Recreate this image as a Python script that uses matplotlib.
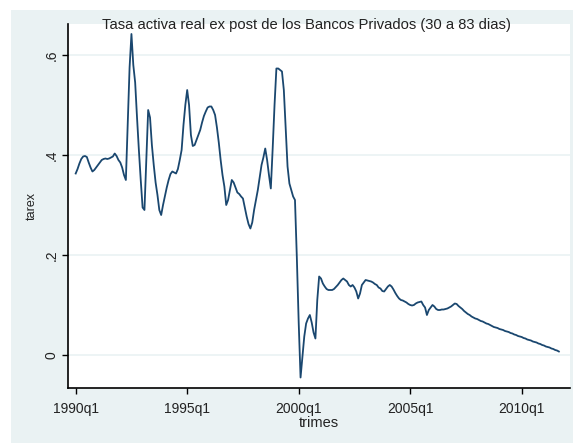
import numpy as np
import matplotlib as mpl; mpl.use('Agg')
import matplotlib.pyplot as plt
from matplotlib.patches import Rectangle

# tasa activa real ex post, monthly, 1990m1 - 2011m9
tarex = [
    0.363, 0.372, 0.383, 0.392, 0.397, 0.398, 0.396, 0.385, 0.375, 0.367, 0.370, 0.375,   # 1990
    0.380, 0.385, 0.390, 0.392, 0.393, 0.392, 0.393, 0.395, 0.397, 0.403, 0.398, 0.390,   # 1991
    0.385, 0.375, 0.360, 0.350, 0.460, 0.575, 0.642, 0.580, 0.545, 0.475, 0.410, 0.350,   # 1992
    0.295, 0.290, 0.390, 0.490, 0.475, 0.420, 0.380, 0.345, 0.320, 0.290, 0.280, 0.300,   # 1993
    0.318, 0.335, 0.350, 0.362, 0.367, 0.365, 0.363, 0.372, 0.390, 0.410, 0.460, 0.500,   # 1994
    0.530, 0.500, 0.440, 0.418, 0.420, 0.430, 0.440, 0.450, 0.465, 0.478, 0.487, 0.495,   # 1995
    0.497, 0.497, 0.490, 0.480, 0.455, 0.425, 0.390, 0.360, 0.337, 0.300, 0.310, 0.330,   # 1996
    0.350, 0.345, 0.335, 0.325, 0.322, 0.317, 0.313, 0.295, 0.277, 0.262, 0.253, 0.265,   # 1997
    0.290, 0.310, 0.330, 0.355, 0.380, 0.395, 0.413, 0.390, 0.360, 0.333, 0.413, 0.500,   # 1998
    0.573, 0.573, 0.570, 0.567, 0.530, 0.455, 0.377, 0.343, 0.330, 0.317, 0.310, 0.195,   # 1999
    0.065, -0.045, -0.005, 0.037, 0.063, 0.073, 0.080, 0.065, 0.045, 0.033, 0.110, 0.157, # 2000
    0.153, 0.143, 0.137, 0.132, 0.130, 0.130, 0.130, 0.132, 0.136, 0.140, 0.145, 0.150,   # 2001
    0.153, 0.150, 0.147, 0.140, 0.137, 0.140, 0.135, 0.127, 0.113, 0.123, 0.140, 0.145,   # 2002
    0.150, 0.149, 0.148, 0.147, 0.145, 0.142, 0.140, 0.135, 0.133, 0.128, 0.127, 0.132,   # 2003
    0.137, 0.140, 0.137, 0.131, 0.124, 0.118, 0.113, 0.110, 0.109, 0.107, 0.105, 0.102,   # 2004
    0.100, 0.099, 0.100, 0.103, 0.105, 0.106, 0.107, 0.100, 0.095, 0.080, 0.090, 0.095,   # 2005
    0.100, 0.097, 0.092, 0.090, 0.090, 0.091, 0.091, 0.092, 0.093, 0.095, 0.097, 0.100,   # 2006
    0.103, 0.102, 0.098, 0.095, 0.092, 0.088, 0.085, 0.082, 0.080, 0.077, 0.075, 0.073,   # 2007
    0.072, 0.070, 0.068, 0.067, 0.065, 0.063, 0.062, 0.060, 0.058, 0.056, 0.055, 0.054,   # 2008
    0.052, 0.051, 0.050, 0.048, 0.047, 0.046, 0.044, 0.043, 0.041, 0.040, 0.038, 0.037,   # 2009
    0.036, 0.034, 0.033, 0.031, 0.030, 0.029, 0.027, 0.026, 0.025, 0.023, 0.022, 0.020,   # 2010
    0.019, 0.017, 0.016, 0.015, 0.013, 0.012, 0.010, 0.009, 0.007,                        # 2011
]
start_year = 1990
xticks = [1990, 1995, 2000, 2005, 2010]
xticklabels = ['1990q1', '1995q1', '2000q1', '2005q1', '2010q1']
yticks = [0, 0.2, 0.4, 0.6]
yticklabels = ['0', '.2', '.4', '.6']

titulo = 'Tasa activa real ex post de los Bancos Privados (30 a 83 dias)'

plt.rcParams['font.family'] = ['Liberation Sans', 'DejaVu Sans']

navy = '#1a476f'
region = '#eaf2f3'
W, H = 573, 443

fig = plt.figure(figsize=(W / 100, H / 100), dpi=100)
fig.patch.set_facecolor('white')
# graph region (stata s2color), kept behind the axes
fig.patches.append(Rectangle((11 / W, 0), (W - 11) / W, (H - 10) / H,
                             transform=fig.transFigure, facecolor=region,
                             edgecolor='none', zorder=-10))

ax = fig.add_axes([68 / W, (H - 388) / H, (570 - 68) / W, (388 - 24) / H])
ax.set_facecolor('white')

t = start_year + np.arange(len(tarex)) / 12.0
ax.plot(t, tarex, color=navy, lw=1.3, zorder=3)

ax.set_xlim(1989.655, 2012.166)
ax.set_ylim(-0.066, 0.662)

ax.set_xticks(xticks)
ax.set_xticklabels(xticklabels)
ax.set_yticks(yticks)
ax.set_yticklabels(yticklabels, rotation=90, va='center')
ax.yaxis.grid(True, color=region, lw=1.2)
ax.set_axisbelow(True)

for s in ['top', 'right']:
    ax.spines[s].set_visible(False)
for s in ['left', 'bottom']:
    ax.spines[s].set_color('black')
    ax.spines[s].set_linewidth(1.2)

ax.tick_params(axis='both', length=4, width=1, color='black',
               labelsize=10, labelcolor='#222222')
ax.tick_params(axis='x', pad=6)
ax.tick_params(axis='y', pad=2.5)

ax.set_ylabel('tarex', fontsize=9, color='#222222')
ax.yaxis.set_label_coords(-0.06, 0.5)
ax.set_xlabel('trimes', fontsize=10.5, color='#222222')
ax.xaxis.set_label_coords(0.5, -0.078)

fig.text(306 / W, 1 - 25 / H, titulo, ha='center', va='center',
         fontsize=10.6, color='#222222')

fig.savefig('out.png', dpi=100)
